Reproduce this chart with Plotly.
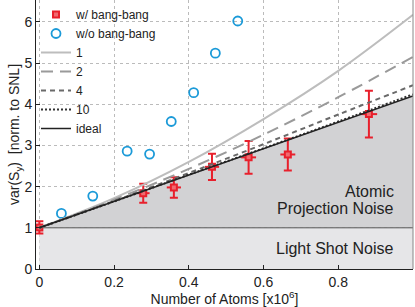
import plotly.graph_objects as go

# ---- data ----
bb_x = [0.0, 0.278, 0.36, 0.462, 0.56, 0.665, 0.882]
bb_y = [1.01, 1.84, 1.98, 2.48, 2.71, 2.78, 3.76]
bb_yerr = [0.15, 0.23, 0.25, 0.32, 0.40, 0.39, 0.57]
bb_xerr = [0.005, 0.017, 0.019, 0.019, 0.02, 0.02, 0.022]

nobb_x = [0.059, 0.143, 0.235, 0.295, 0.353, 0.413, 0.471, 0.531]
nobb_y = [1.35, 1.77, 2.86, 2.79, 3.58, 4.28, 5.24, 6.02]

curve_x = [0.0, 0.2, 0.4, 0.6, 0.8, 1.0]
curve_1 = [1.0, 1.72, 2.60, 3.64, 4.81, 6.17]
curve_2 = [1.0, 1.68, 2.43, 3.26, 4.17, 5.15]
curve_4 = [1.0, 1.65, 2.33, 3.03, 3.75, 4.46]
curve_10 = [1.0, 1.64, 2.29, 2.93, 3.58, 4.24]
ideal_x = [0.0, 1.0]
ideal_y = [1.0, 4.2]
snl_y = [1.0, 1.0]

x_ticks = [0, 0.2, 0.4, 0.6, 0.8, 1]
x_labels = ["0", "0.2", "0.4", "0.6", "0.8", "1"]
y_ticks = [0, 1, 2, 3, 4, 5, 6]

RED = "#e8202c"
BLUE = "#1b9ad8"
FONT = "Liberation Sans, Arial, sans-serif"

fig = go.Figure()

# shaded regions
fig.add_trace(go.Scatter(x=ideal_x, y=snl_y, mode="lines", line=dict(color="#555555", width=1),
                         fill="tozeroy", fillcolor="#e6e6e8", showlegend=False, hoverinfo="skip"))
fig.add_trace(go.Scatter(x=ideal_x, y=ideal_y, mode="lines", line=dict(color="rgba(0,0,0,0)", width=0),
                         fill="tonexty", fillcolor="#d2d2d4", showlegend=False, hoverinfo="skip"))

# data points (legend first)
fig.add_trace(go.Scatter(x=bb_x, y=bb_y, mode="markers", name="w/ bang-bang",
                         marker=dict(symbol="square", size=6, color="#f06a70",
                                     line=dict(color=RED, width=2)),
                         error_y=dict(type="data", array=bb_yerr, color=RED, thickness=2, width=4),
                         error_x=dict(type="data", array=bb_xerr, color=RED, thickness=2, width=0)))
fig.add_trace(go.Scatter(x=nobb_x, y=nobb_y, mode="markers", name="w/o bang-bang",
                         marker=dict(symbol="circle-open", size=9, color=BLUE, line=dict(width=1.8))))

# model curves
fig.add_trace(go.Scatter(x=curve_x, y=curve_1, mode="lines", name="1", line_shape="spline",
                         line=dict(color="#bdbdbd", width=2)))
fig.add_trace(go.Scatter(x=curve_x, y=curve_2, mode="lines", name="2", line_shape="spline",
                         line=dict(color="#9a9a9a", width=2, dash="12px,7px")))
fig.add_trace(go.Scatter(x=curve_x, y=curve_4, mode="lines", name="4", line_shape="spline",
                         line=dict(color="#6a6a6a", width=2, dash="5px,4px")))
fig.add_trace(go.Scatter(x=curve_x, y=curve_10, mode="lines", name="10", line_shape="spline",
                         line=dict(color="#333333", width=2, dash="2px,2px")))
fig.add_trace(go.Scatter(x=ideal_x, y=ideal_y, mode="lines", name="ideal",
                         line=dict(color="#222222", width=1.5)))

# right border
fig.add_shape(type="line", xref="paper", yref="paper", x0=1, x1=1, y0=0, y1=1,
              line=dict(color="#888888", width=1))

fig.add_annotation(x=0.955, y=1.88, xref="x", yref="y", text="Atomic", showarrow=False,
                   xanchor="right", font=dict(size=16, color="#222222", family=FONT))
fig.add_annotation(x=0.955, y=1.46, xref="x", yref="y", text="Projection Noise", showarrow=False,
                   xanchor="right", font=dict(size=16, color="#222222", family=FONT))
fig.add_annotation(x=0.955, y=0.49, xref="x", yref="y", text="Light Shot Noise", showarrow=False,
                   xanchor="right", font=dict(size=16, color="#222222", family=FONT))

fig.update_layout(
    width=415, height=307,
    margin=dict(l=36, r=2, t=0, b=38),
    paper_bgcolor="white", plot_bgcolor="white",
    font=dict(family=FONT, size=14, color="#222222"),
    showlegend=True,
    legend=dict(x=0.0, y=1.0, xanchor="left", yanchor="top", bgcolor="rgba(0,0,0,0)",
                font=dict(size=12, family=FONT), tracegroupgap=0, itemwidth=30,
                traceorder="normal"),
    xaxis=dict(range=[-0.009, 1.0], tickvals=x_ticks, ticktext=x_labels, automargin=False,
               showgrid=True, gridcolor="#bbbbbb", griddash="dot", gridwidth=1,
               zeroline=False, showline=True, linecolor="#222222", linewidth=1,
               ticks="inside", ticklen=4, tickcolor="#222222",
               title=dict(text="Number of Atoms [x10<sup>6</sup>]", standoff=0,
                          font=dict(size=14)), layer="above traces"),
    yaxis=dict(range=[0, 6.53], tickvals=y_ticks, automargin=False,
               showgrid=True, gridcolor="#bbbbbb", griddash="dot", gridwidth=1,
               zeroline=False, showline=True, linecolor="#222222", linewidth=1,
               ticks="inside", ticklen=4, tickcolor="#222222",
               title=dict(text="var(S<sub>y</sub>)  [norm. to SNL]", standoff=0,
                          font=dict(size=14)), layer="above traces"),
)

fig.write_html("out.html", config={"displayModeBar": False},
               post_script="document.body.style.margin='0';document.body.style.padding='0';")
